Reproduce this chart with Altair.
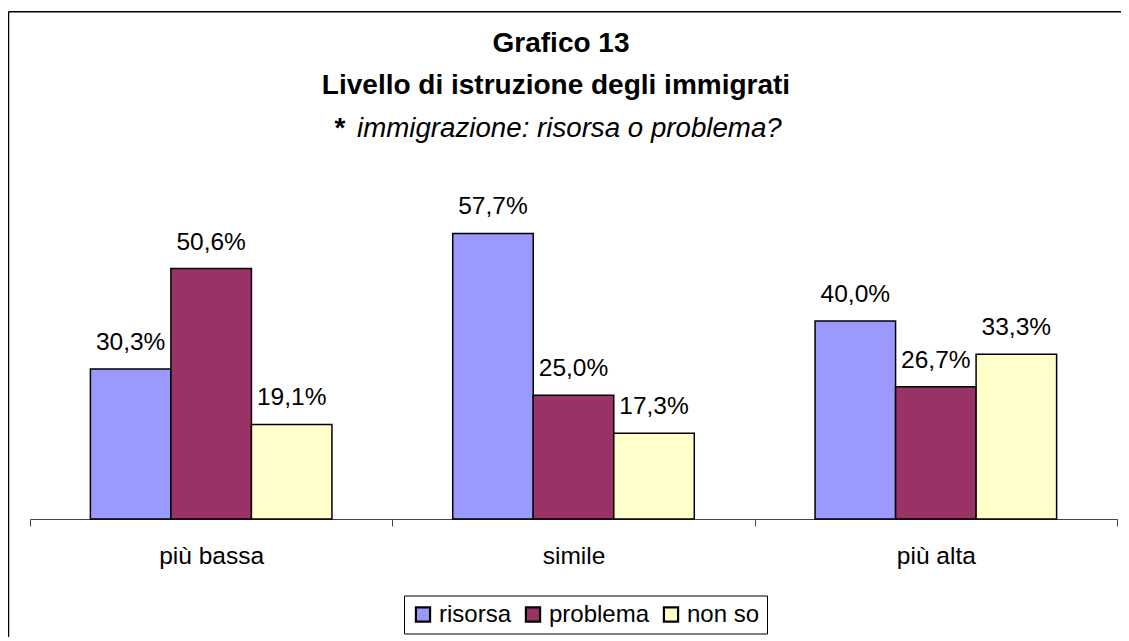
import altair as alt
import pandas as pd

categories = ["più bassa", "simile", "più alta"]
series = ["risorsa", "problema", "non so"]
risorsa = [30.3, 57.7, 40.0]
problema = [50.6, 25.0, 26.7]
non_so = [19.1, 17.3, 33.3]
colors = ["#9999FF", "#993366", "#FFFFCC"]

title_lines = ["Grafico 13", "Livello di istruzione degli immigrati"]
subtitle_star = "*"
subtitle_text = "immigrazione: risorsa o problema?"

rows = []
for i, c in enumerate(categories):
    for s, vals in zip(series, [risorsa, problema, non_so]):
        v = vals[i]
        rows.append({"cat": c, "serie": s, "val": v,
                     "label": f"{v:.1f}%".replace(".", ",")})
df = pd.DataFrame(rows)

W = 1087
H = 346.5
PAD_R = 4
PAD_B = 118
FONT = "Liberation Sans, Arial, Helvetica, sans-serif"

base = alt.Chart(df).encode(
    x=alt.X("cat:N", sort=categories,
            scale=alt.Scale(paddingInner=0, paddingOuter=0),
            axis=alt.Axis(title=None, labelAngle=0, labelFontSize=24.5, labelFont=FONT,
                          labelColor="black", labelPadding=18, tickBand="extent",
                          tickSize=7, tickColor="#444", domainColor="#444",
                          domainWidth=1, tickWidth=1, grid=False)),
    xOffset=alt.XOffset("serie:N", sort=series,
                        scale=alt.Scale(paddingInner=0, paddingOuter=0.75)),
)

bars = base.mark_bar(stroke="black", strokeWidth=1.5).encode(
    y=alt.Y("val:Q", scale=alt.Scale(domain=[0, 70], nice=False), axis=None),
    color=alt.Color("serie:N", sort=series,
                    scale=alt.Scale(domain=series, range=colors),
                    legend=alt.Legend(title=None, orient="none", legendX=374, legendY=423,
                                      direction="horizontal", symbolType="square",
                                      symbolSize=200, symbolStrokeColor="black",
                                      symbolStrokeWidth=2.2, symbolOpacity=1,
                                      labelFontSize=24, labelFont=FONT, labelColor="black",
                                      labelOffset=4, columnPadding=9, padding=7,
                                      strokeColor="black", fillColor="white")),
)

labels = base.mark_text(baseline="alphabetic", dy=-19, fontSize=24.5, font=FONT,
                        color="black").encode(
    y=alt.Y("val:Q", scale=alt.Scale(domain=[0, 70], nice=False), axis=None),
    text="label:N",
)

one = alt.Data(values=[{"a": 1}])

frame_left = alt.Chart(one).mark_rule(color="black", strokeWidth=1.5).encode(
    x=alt.value(-21.5), y=alt.value(-160.8), y2=alt.value(H + PAD_B)
)
frame_top = alt.Chart(one).mark_rule(color="black", strokeWidth=1.5).encode(
    x=alt.value(-21.5), x2=alt.value(W + PAD_R), y=alt.value(-160.8)
)

t1 = alt.Chart(one).mark_text(
    text=title_lines[0], font=FONT, fontSize=28, fontWeight="bold", color="black",
    align="center", baseline="alphabetic"
).encode(x=alt.value(531), y=alt.value(-120.5))

t2 = alt.Chart(one).mark_text(
    text=title_lines[1], font=FONT, fontSize=28, fontWeight="bold", color="black",
    align="center", baseline="alphabetic"
).encode(x=alt.value(526), y=alt.value(-78.5))

t3a = alt.Chart(one).mark_text(
    text=subtitle_star, font=FONT, fontSize=28, fontWeight="bold", color="black",
    align="center", baseline="alphabetic"
).encode(x=alt.value(310), y=alt.value(-35.5))

t3b = alt.Chart(one).mark_text(
    text=subtitle_text, font=FONT, fontSize=27.7, fontStyle="italic", color="black",
    align="left", baseline="alphabetic"
).encode(x=alt.value(327), y=alt.value(-35.5))

chart = alt.layer(frame_left, frame_top, bars, labels, t1, t2, t3a, t3b).properties(
    width=W, height=H,
    autosize=alt.AutoSizeParams(type="none"),
    padding={"left": 22, "top": 164.5, "right": PAD_R, "bottom": PAD_B},
    background="white",
).configure_view(strokeWidth=0, stroke="transparent")

chart.save("out.html", embed_options={"renderer": "svg", "actions": False})
